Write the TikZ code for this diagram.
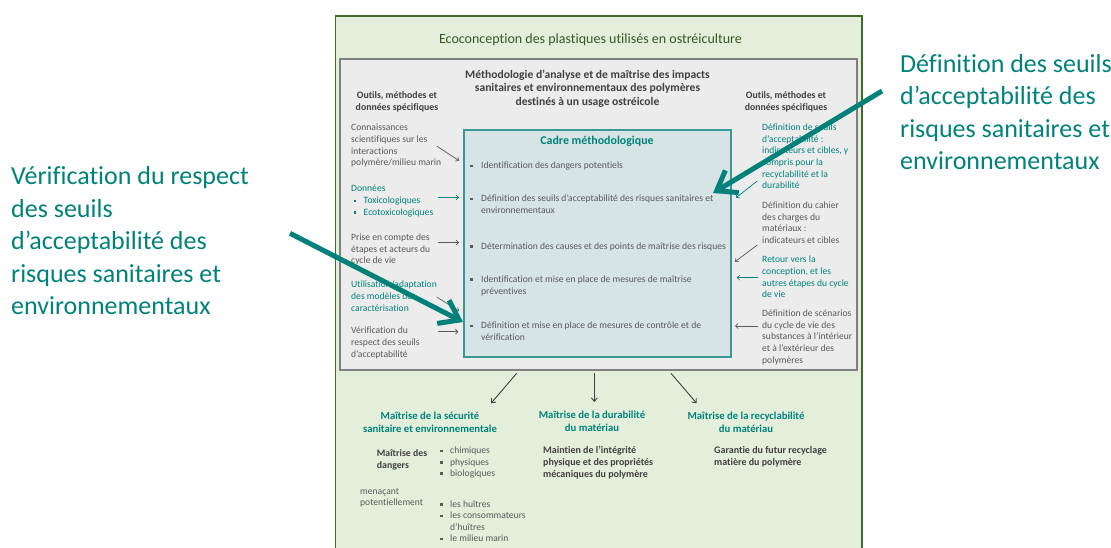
\documentclass[tikz,border=0pt]{standalone}
\usepackage{fontspec}
\setmainfont{Carlito}[Ligatures=NoCommon]
\usetikzlibrary{arrows.meta}

\definecolor{ecofill}{RGB}{227,239,219}
\definecolor{ecoline}{RGB}{67,106,42}
\definecolor{ecotitle}{RGB}{56,87,35}
\definecolor{methfill}{RGB}{236,236,236}
\definecolor{methline}{RGB}{128,128,128}
\definecolor{cadrefill}{RGB}{214,228,229}
\definecolor{cadreline}{RGB}{60,150,145}
\definecolor{tealtxt}{RGB}{0,130,122}
\definecolor{graytxt}{RGB}{89,89,89}
\definecolor{darktxt}{RGB}{64,64,64}

\newcommand{\sqb}{\raisebox{1.5pt}{\rule{2.4pt}{2.4pt}}}
\newcommand{\bul}[1][11pt]{\makebox[#1][l]{\sqb}}

\begin{document}
\begin{tikzpicture}[
    x=1pt, y=-1pt,
    box/.style={draw, inner sep=0pt, outer sep=0pt},
    txt/.style={inner sep=0pt, align=left, anchor=north west, text=graytxt, font=\fontsize{9.6}{11.7}\selectfont, execute at begin node=\strut},
    accent/.style={txt, text=tealtxt},
    item/.style={txt, font=\fontsize{9.6}{11.9}\selectfont},
    head/.style={inner sep=0pt, align=center, anchor=north, text=darktxt, execute at begin node=\strut},
    subhead/.style={head, text=tealtxt, font=\fontsize{10.7}{13}\selectfont\bfseries},
    note/.style={txt, text=darktxt, font=\fontsize{10}{11.7}\selectfont\bfseries},
    big/.style={inner sep=0pt, align=left, anchor=north west, text=tealtxt, font=\fontsize{26}{32.5}\selectfont, execute at begin node=\strut},
    arrow/.style={-{Straight Barb[length=2.5pt,width=5pt]}, line width=0.7pt, draw=graytxt},
    downarrow/.style={-{Straight Barb[length=3.5pt,width=6pt]}, line width=0.9pt, draw=darktxt},
    bigarrow/.style={-{Straight Barb[length=18pt,width=26pt]}, line width=5pt, draw=tealtxt}
]
    \useasboundingbox (0,0) rectangle (1111,547);

    % Boxes
    \node[box, fill=ecofill, draw=ecoline, line width=1.4pt, minimum width=526.5pt, minimum height=533pt] (eco) at (598.75,282.5) {};
    \node[box, fill=methfill, draw=methline, line width=1.5pt, minimum width=517pt, minimum height=311pt] (meth) at (598.5,214.5) {};
    \node[box, fill=cadrefill, draw=cadreline, line width=1.2pt, minimum width=267pt, minimum height=227pt] (cadre) at (597.5,243.5) {};

    % Titles
    \node[anchor=base, inner sep=0pt, text=ecotitle, font=\fontsize{14}{16}\selectfont] (title) at (590.5,43.5) {Ecoconception des plastiques utilisés en ostréiculture};
    \node[head, font=\fontsize{11.6}{13.2}\selectfont\bfseries] (methtitle) at (587.5,70) {Méthodologie d’analyse et de maîtrise des impacts\\sanitaires et environnementaux des polymères\\destinés à un usage ostréicole};
    \node[head, font=\fontsize{9.8}{12.2}\selectfont\bfseries] (toolsL) at (397,91) {Outils, méthodes et\\données spécifiques};
    \node[head, font=\fontsize{9.8}{12.2}\selectfont\bfseries] (toolsR) at (786,91) {Outils, méthodes et\\données spécifiques};
    \node[anchor=base, inner sep=0pt, text=tealtxt, font=\fontsize{11.9}{14}\selectfont\bfseries] (cadretitle) at (597,144) {Cadre méthodologique};

    % Cadre items
    \node[item] (c1) at (470,160) {\bul Identification des dangers potentiels};
    \node[item] (c2) at (470,194.5) {\bul Définition des seuils d’acceptabilité des risques sanitaires et\\\hspace*{11pt}environnementaux};
    \node[item] (c3) at (470,240.5) {\bul Détermination des causes et des points de maîtrise des risques};
    \node[item] (c4) at (470,275.5) {\bul Identification et mise en place de mesures de maîtrise\\\hspace*{11pt}préventives};
    \node[item] (c5) at (470,322) {\bul Définition et mise en place de mesures de contrôle et de\\\hspace*{11pt}vérification};

    % Left column
    \node[txt] (lt1) at (351,124) {Connaissances\\scientifiques sur les\\interactions\\polymère/milieu marin};
    \node[accent] (lt2) at (351,185) {Données\\\hspace*{2.5pt}\bul[10pt]Toxicologiques\\\hspace*{2.5pt}\bul[10pt]Ecotoxicologiques};
    \node[txt] (lt3) at (351,233.5) {Prise en compte des\\étapes et acteurs du\\cycle de vie};
    \node[accent] (lt4) at (351,281) {Utilisation/adaptation\\des modèles de\\caractérisation};
    \node[txt] (lt5) at (351,327) {Vérification du\\respect des seuils\\d’acceptabilité};

    % Right column
    \node[accent] (rt1) at (762,123.5) {Définition de seuils\\d’acceptabilité :\\indicateurs et cibles, y\\compris pour la\\recyclabilité et la\\durabilité};
    \node[txt] (rt2) at (762,201.5) {Définition du cahier\\des charges du\\matériaux :\\indicateurs et cibles};
    \node[accent] (rt3) at (762,256) {Retour vers la\\conception, et les\\autres étapes du cycle\\de vie};
    \node[txt] (rt4) at (762,309.5) {Définition de scénarios\\du cycle de vie des\\substances à l’intérieur\\et à l’extérieur des\\polymères};

    % Outcomes
    \node[subhead] (safety) at (430,412) {Maîtrise de la sécurité\\sanitaire et environnementale};
    \node[subhead] (durab) at (592,411) {Maîtrise de la durabilité\\du matériau};
    \node[subhead] (recyc) at (746,412) {Maîtrise de la recyclabilité\\du matériau};
    \node[note, font=\fontsize{9.8}{11.5}\selectfont\bfseries] (danger) at (376.7,449.5) {Maîtrise des\\dangers};
    \node[txt, font=\fontsize{9.6}{11.2}\selectfont] (hazards) at (440,447) {\bul[10pt]chimiques\\\bul[10pt]physiques\\\bul[10pt]biologiques};
    \node[txt, font=\fontsize{9.6}{11.2}\selectfont] (menace) at (360,488) {menaçant\\potentiellement};
    \node[txt, font=\fontsize{9.6}{11.4}\selectfont] (targets) at (440,500.5) {\bul[10pt]les huîtres\\\bul[10pt]les consommateurs\\\hspace*{10pt}d’huîtres\\\bul[10pt]le milieu marin};
    \node[note] (durabtxt) at (543,446.5) {Maintien de l’intégrité\\physique et des propriétés\\mécaniques du polymère};
    \node[note] (recyctxt) at (714,446.5) {Garantie du futur recyclage\\matière du polymère};

    % Annotations
    \node[big] (annR) at (900,54) {Définition des seuils\\d’acceptabilité des\\risques sanitaires et\\environnementaux};
    \node[big] (annL) at (11,166.5) {Vérification du respect\\des seuils\\d’acceptabilité des\\risques sanitaires et\\environnementaux};

    % Arrow ends
    \coordinate (la1) at (436.7,146);   \coordinate (la1e) at (459,160.7);
    \coordinate (la2) at (437.7,197.3); \coordinate (la2e) at (459,197.3);
    \coordinate (la3) at (437.7,242.7); \coordinate (la3e) at (459,242.7);
    \coordinate (la4) at (436.7,297);   \coordinate (la4e) at (459,311);
    \coordinate (la5) at (437.7,331.7); \coordinate (la5e) at (458.3,331.7);
    \coordinate (ra1) at (757.3,181);   \coordinate (ra1e) at (736,197.7);
    \coordinate (ra2) at (757.3,245);   \coordinate (ra2e) at (735,261.7);
    \coordinate (ra3) at (758.3,277.7); \coordinate (ra3e) at (736.7,277.7);
    \coordinate (ra4) at (758.3,326);   \coordinate (ra4e) at (735,326);
    \coordinate (da1) at (516.7,373.3); \coordinate (da1e) at (491,403.3);
    \coordinate (da2) at (594.3,373.3); \coordinate (da2e) at (594.3,402);
    \coordinate (da3) at (671,373.3);   \coordinate (da3e) at (696.7,403.3);
    \coordinate (annRs) at (882,91);    \coordinate (annRe) at (713,193);
    \coordinate (annLs) at (290,233.3); \coordinate (annLe) at (463,322);

    % Arrows
    \draw[arrow] (la1) -- (la1e);
    \draw[arrow, draw=tealtxt] (la2) -- (la2e);
    \draw[arrow] (la3) -- (la3e);
    \draw[arrow] (la4) -- (la4e);
    \draw[arrow] (la5) -- (la5e);
    \draw[arrow, draw=tealtxt] (ra1) -- (ra1e);
    \draw[arrow] (ra2) -- (ra2e);
    \draw[arrow, draw=tealtxt] (ra3) -- (ra3e);
    \draw[arrow] (ra4) -- (ra4e);
    \draw[downarrow] (da1) -- (da1e);
    \draw[downarrow] (da2) -- (da2e);
    \draw[downarrow] (da3) -- (da3e);
    \draw[bigarrow] (annRs) -- (annRe);
    \draw[bigarrow] (annLs) -- (annLe);
\end{tikzpicture}
\end{document}
